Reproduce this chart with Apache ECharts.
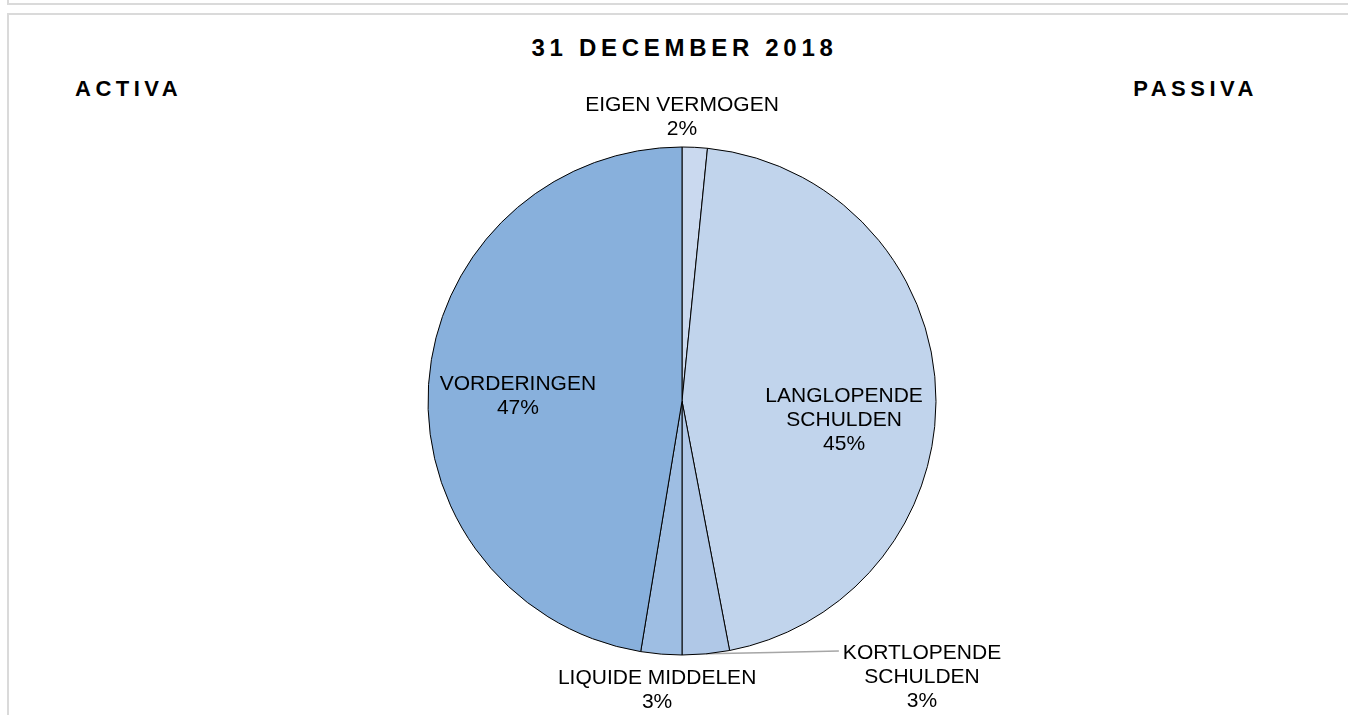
<!DOCTYPE html>
<html lang="nl">
<head>
<meta charset="UTF-8">
<title>31 december 2018 - activa en passiva</title>
<script src="https://cdn.jsdelivr.net/npm/echarts@6/dist/echarts.min.js"></script>
<style>
    html, body {
        margin: 0;
        padding: 0;
        background: #fff;
    }
    body {
        width: 1348px;
        height: 715px;
        overflow: hidden;
        position: relative;
        font-family: "Liberation Sans", Arial, sans-serif;
    }
    .frame {
        position: absolute;
        box-sizing: border-box;
        border: 2px solid #dadada;
    }
    .frame.prev {
        left: 7px;
        top: -20px;
        width: 1360px;
        height: 25px;
    }
    .frame.main {
        left: 7px;
        top: 13px;
        width: 1360px;
        height: 730px;
    }
    .head {
        position: absolute;
        font-size: 22px;
        line-height: 26px;
        font-weight: bold;
        letter-spacing: 4.5px;
        color: #000;
        white-space: nowrap;
    }
    .head.title {
        left: 0;
        width: 1369px;
        top: 34px;
        font-size: 24px;
        line-height: 28px;
        letter-spacing: 4.7px;
        text-align: center;
    }
    .head.activa {
        left: 75px;
        top: 76px;
    }
    .head.passiva {
        right: 90px;
        top: 76px;
    }
    #chart {
        position: absolute;
        left: 0;
        top: 0;
        width: 1348px;
        height: 715px;
    }
</style>
</head>
<body>
<div class="frame prev"></div>
<div class="frame main"></div>
<div class="head title">31 DECEMBER 2018</div>
<div class="head activa">ACTIVA</div>
<div class="head passiva">PASSIVA</div>
<div id="chart"></div>
<script>
    var categories = ['EIGEN VERMOGEN', 'LANGLOPENDE SCHULDEN', 'KORTLOPENDE SCHULDEN', 'LIQUIDE MIDDELEN', 'VORDERINGEN'];
    var shares = [1.6, 45.4, 3.0, 2.6, 47.4];
    var sliceColors = ['#cad9ef', '#c1d4ec', '#b0c8e7', '#9ebee3', '#88b0dc'];

    var CX = 682, CY = 401, R = 254;
    // label anchor per slice, in units of the radius from the centre
    var labelSpots = [[0, -1.118], [0.638, 0.075], [0.945, 1.087], [-0.098, 1.138], [-0.646, -0.02]];

    var total = 0;
    shares.forEach(function (v) { total += v; });
    function midAngle(idx) {
        var before = 0;
        for (var i = 0; i < idx; i++) before += shares[i];
        return (before + shares[idx] / 2) / total * Math.PI * 2;
    }

    var pieData = categories.map(function (name, i) {
        return {
            name: name,
            value: shares[i],
            itemStyle: {color: sliceColors[i]},
            labelLine: {show: i === 2}
        };
    });

    var chart = echarts.init(document.getElementById('chart'));
    chart.setOption({
        animation: false,
        series: [{
            type: 'pie',
            center: [CX, CY],
            radius: R,
            startAngle: 90,
            clockwise: true,
            percentPrecision: 0,
            avoidLabelOverlap: false,
            emphasis: {disabled: true},
            itemStyle: {borderColor: '#000', borderWidth: 1},
            label: {
                show: true,
                position: 'outside',
                color: '#000',
                fontFamily: '"Liberation Sans", Arial, sans-serif',
                fontSize: 21,
                lineHeight: 24,
                align: 'center',
                formatter: function (p) {
                    return p.name.replace(' SCHULDEN', '\nSCHULDEN') + '\n' + p.percent + '%';
                }
            },
            labelLine: {
                lineStyle: {color: '#a6a6a6', width: 1.5}
            },
            labelLayout: function (params) {
                var i = params.dataIndex;
                var x = CX + labelSpots[i][0] * R;
                var y = CY + labelSpots[i][1] * R;
                var out = {x: x, y: y, align: 'center', verticalAlign: 'middle'};
                if (i === 2) {
                    var a = midAngle(i);
                    var start = [CX + R * Math.sin(a), CY - R * Math.cos(a)];
                    var end = [x - params.labelRect.width / 2 - 4, y - params.labelRect.height / 2 + 10];
                    out.labelLinePoints = [start, [(start[0] + end[0]) / 2, (start[1] + end[1]) / 2], end];
                }
                return out;
            },
            data: pieData
        }]
    });
</script>
</body>
</html>
